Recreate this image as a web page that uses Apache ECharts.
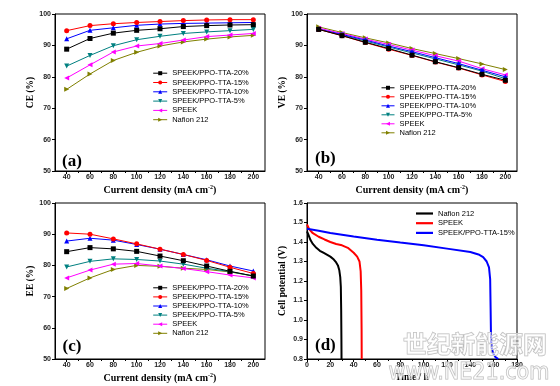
<!DOCTYPE html>
<html>
<head>
<meta charset="utf-8">
<script src="https://cdn.jsdelivr.net/npm/echarts@6/dist/echarts.min.js"></script>
<style>html,body{margin:0;padding:0;background:#fff}#c{width:560px;height:386px}</style>
</head>
<body>
<div id="c"></div>
<script>
// ---------- data ----------
const currents = [40, 60, 80, 100, 120, 140, 160, 180, 200];
const xTickLabels = [40, 60, 80, 100, 120, 140, 160, 180, 200];
const xMinorTicks = [50, 70, 90, 110, 130, 150, 170, 190];
const names = ['SPEEK/PPO-TTA-20%', 'SPEEK/PPO-TTA-15%', 'SPEEK/PPO-TTA-10%', 'SPEEK/PPO-TTA-5%', 'SPEEK', 'Nafion 212'];

const ce20 = [88.8, 92.2, 93.9, 94.8, 95.3, 96.0, 96.3, 96.5, 96.6];
const ce15 = [94.7, 96.3, 96.9, 97.3, 97.6, 97.9, 98.1, 98.2, 98.2];
const ce10 = [92.1, 94.8, 95.6, 96.4, 96.8, 97.0, 97.1, 97.2, 97.3];
const ce5 = [83.4, 86.8, 89.9, 91.8, 92.9, 93.8, 94.3, 94.7, 95.1];
const ceSpeek = [79.6, 83.8, 87.9, 89.8, 90.6, 91.7, 92.8, 93.3, 93.8];
const ceNafion = [76.0, 80.9, 85.2, 87.8, 89.8, 91.1, 92.0, 92.7, 93.2];

const ve20 = [95.1, 93.1, 91.0, 89.0, 86.9, 84.8, 82.9, 80.8, 78.9];
const ve15 = [95.1, 93.1, 90.9, 88.8, 86.8, 84.7, 82.8, 80.6, 78.5];
const ve10 = [95.2, 93.5, 91.7, 89.8, 88.0, 86.1, 84.2, 82.1, 80.0];
const ve5 = [95.1, 93.3, 91.4, 89.5, 87.6, 85.7, 83.8, 81.8, 79.4];
const veSpeek = [95.5, 93.8, 92.0, 90.3, 88.5, 86.7, 85.0, 82.6, 80.6];
const veNafion = [95.9, 94.1, 92.4, 90.8, 89.0, 87.4, 85.8, 84.1, 82.3];

const ee20 = [84.4, 85.7, 85.3, 84.5, 83.0, 81.5, 79.8, 78.1, 76.6];
const ee15 = [90.4, 90.0, 88.5, 86.9, 85.2, 83.5, 81.6, 79.4, 77.4];
const ee10 = [87.8, 88.7, 88.1, 86.7, 85.2, 83.5, 81.8, 79.8, 78.2];
const ee5 = [79.5, 81.3, 82.1, 81.9, 81.4, 80.4, 79.1, 78.0, 76.6];
const eeSpeek = [76.0, 78.5, 80.4, 80.6, 79.8, 79.0, 78.0, 76.9, 76.0];
const eeNafion = [72.6, 76.0, 78.7, 80.0, 79.7, 79.1, 78.7, 77.9, 76.6];

// discharge curves (panel d)
const nafionT = [0, 1, 3, 5, 8, 11, 14, 17, 20, 23, 25, 26.5, 27.7, 28.5, 29, 29.3, 29.5, 29.6];
const nafionV = [1.455, 1.44, 1.41, 1.39, 1.37, 1.355, 1.345, 1.335, 1.325, 1.31, 1.295, 1.28, 1.255, 1.22, 1.17, 1.05, 0.9, 0.8];
const speekT = [0, 2, 5, 10, 15, 20, 25, 30, 35, 40, 43, 45, 46, 46.5, 46.8, 46.9];
const speekV = [1.49, 1.465, 1.445, 1.427, 1.413, 1.40, 1.39, 1.383, 1.37, 1.345, 1.325, 1.30, 1.25, 1.15, 0.95, 0.8];
const ppoT = [0, 10, 20, 40, 60, 80, 100, 120, 140, 147, 151, 154, 156, 157, 157.4, 157.7, 158.2, 159.5, 161.5, 164];
const ppoV = [1.468, 1.458, 1.446, 1.428, 1.412, 1.397, 1.383, 1.366, 1.349, 1.336, 1.322, 1.30, 1.27, 1.21, 1.05, 0.92, 0.86, 0.83, 0.81, 0.80];
const dNames = ['Nafion 212 ', 'SPEEK ', 'SPEEK/PPO-TTA-15% '];

// ---------- styles ----------
const colors = ['#000000', '#ff0000', '#0000ff', '#008080', '#ff00ff', '#808000'];
const symbols = ['rect', 'circle', 'triangle', 'path://M0,0L10,0L5,10Z', 'path://M10,0L10,10L0,5Z', 'path://M0,0L10,5L0,10Z'];
const dColors = ['#000000', '#ff0000', '#0000ff'];
const SERIF = '"Liberation Serif","Times New Roman",serif';
const SANS = '"Liberation Sans",Arial,sans-serif';

const grids = [
  {left: 55, top: 14, width: 210, height: 157},
  {left: 307, top: 14, width: 210, height: 157},
  {left: 55, top: 203, width: 210, height: 156},
  {left: 307, top: 203, width: 210, height: 156}
].map(g => Object.assign({show: true, borderColor: '#000', borderWidth: 1, backgroundColor: 'transparent', containLabel: false, outerBoundsMode: 'none'}, g));

const labelStyle = {fontFamily: SANS, fontSize: 7, fontWeight: 'bold', color: '#222'};
const xName = '{n|Current density (mA cm}{s|-2}{n|)}';
const xNameStyle = {rich: {
  n: {fontFamily: SERIF, fontSize: 10, fontWeight: 'bold', color: '#000', lineHeight: 12},
  s: {fontFamily: SERIF, fontSize: 6, fontWeight: 'bold', color: '#000', lineHeight: 12, verticalAlign: 'top', padding: [0, 0, 5, 0]}
}};

const xAxes = [];
[0, 1, 2].forEach(g => {
  xAxes.push({
    type: 'value', gridIndex: g, position: 'bottom', min: 30, max: 210,
    name: xName, nameLocation: 'middle', nameGap: 13, nameTextStyle: xNameStyle,
    axisLine: {show: true, lineStyle: {color: '#000', width: 1}},
    axisTick: {show: true, inside: false, length: 3, customValues: xTickLabels, lineStyle: {color: '#000'}},
    axisLabel: Object.assign({margin: 3, customValues: xTickLabels}, labelStyle),
    splitLine: {show: false}
  });
  xAxes.push({
    type: 'value', gridIndex: g, position: 'bottom', min: 30, max: 210,
    axisLine: {show: false},
    axisTick: {show: true, inside: false, length: 2, customValues: xMinorTicks, lineStyle: {color: '#000'}},
    axisLabel: {show: false}, splitLine: {show: false}
  });
});
xAxes.push({
  type: 'value', gridIndex: 3, position: 'bottom', min: 0, max: 180, interval: 20,
  name: 'Time / h', nameLocation: 'middle', nameGap: 14,
  nameTextStyle: {fontFamily: SERIF, fontSize: 9.5, fontWeight: 'bold', color: '#000'},
  axisLine: {show: true, lineStyle: {color: '#000', width: 1}},
  axisTick: {show: true, inside: false, length: 3, lineStyle: {color: '#000'}},
  minorTick: {show: true, splitNumber: 2, length: 2, lineStyle: {color: '#000'}},
  axisLabel: Object.assign({margin: 3}, labelStyle),
  splitLine: {show: false}
});

const yNames = ['CE (%)', 'VE (%)', 'EE (%)'];
const yAxes = [0, 1, 2].map(g => ({
  type: 'value', gridIndex: g, min: 50, max: 100, interval: 10,
  name: yNames[g], nameLocation: 'middle', nameGap: 18,
  nameTextStyle: {fontFamily: SERIF, fontSize: 9.5, fontWeight: 'bold', color: '#000'},
  axisLine: {show: true, lineStyle: {color: '#000', width: 1}},
  axisTick: {show: true, inside: false, length: 3, lineStyle: {color: '#000'}},
  axisLabel: Object.assign({margin: 4}, labelStyle),
  splitLine: {show: false}
}));
yAxes.push({
  type: 'value', gridIndex: 3, min: 0.8, max: 1.6, interval: 0.1,
  name: 'Cell potential (V)', nameLocation: 'middle', nameGap: 19,
  nameTextStyle: {fontFamily: SERIF, fontSize: 9.5, fontWeight: 'bold', color: '#000'},
  axisLine: {show: true, lineStyle: {color: '#000', width: 1}},
  axisTick: {show: true, inside: false, length: 3, lineStyle: {color: '#000'}},
  axisLabel: Object.assign({margin: 4, formatter: v => v.toFixed(1)}, labelStyle),
  splitLine: {show: false}
});

const panelData = [
  [ce20, ce15, ce10, ce5, ceSpeek, ceNafion],
  [ve20, ve15, ve10, ve5, veSpeek, veNafion],
  [ee20, ee15, ee10, ee5, eeSpeek, eeNafion]
];
const series = [];
panelData.forEach((arrs, p) => {
  arrs.forEach((vals, i) => {
    series.push({
      type: 'line', name: names[i], xAxisIndex: p * 2, yAxisIndex: p,
      data: currents.map((c, k) => [c, vals[k]]),
      symbol: symbols[i], symbolSize: 5, showSymbol: true,
      lineStyle: {color: colors[i], width: 1},
      itemStyle: {color: colors[i]},
      z: 10 - i, animation: false
    });
  });
});
[[nafionT, nafionV], [speekT, speekV], [ppoT, ppoV]].forEach((tv, i) => {
  series.push({
    type: 'line', name: dNames[i], xAxisIndex: 6, yAxisIndex: 3,
    data: tv[0].map((t, k) => [t, tv[1][k]]),
    symbol: 'none', showSymbol: false,
    lineStyle: {color: dColors[i], width: 2},
    itemStyle: {color: dColors[i]},
    animation: false
  });
});

const legendText = {fontFamily: SANS, fontSize: 7.5, color: '#000', lineHeight: 8};
const mkLegend = (left, top, gap) => ({
  data: names, orient: 'vertical', left: left, top: top, padding: 0,
  itemWidth: 14, itemHeight: 5, itemGap: gap, textStyle: legendText, selectedMode: false,
  lineStyle: {width: 1}
});
const legends = [
  mkLegend(152.7, 69.2, 1.3),
  Object.assign(mkLegend(381, 83.8, 1.0), {itemWidth: 13}),
  mkLegend(152.7, 283.8, 1.1),
  {data: dNames.map(n => ({name: n, icon: 'rect'})), orient: 'vertical', left: 416, top: 209.5, padding: 0,
   itemWidth: 17, itemHeight: 2.2, itemGap: 1.7, textStyle: legendText, selectedMode: false}
];

const panelLabel = (txt, x, y) => ({
  type: 'text', x: x, y: y, z: 50,
  style: {text: txt, fontFamily: SERIF, fontSize: 17, fontWeight: 'bold', fill: '#000', textVerticalAlign: 'middle', textAlign: 'left'}
});

const chart = echarts.init(document.getElementById('c'), null, {renderer: 'canvas'});
chart.setOption({
  animation: false,
  backgroundColor: '#fff',
  grid: grids,
  xAxis: xAxes,
  yAxis: yAxes,
  legend: legends,
  series: series,
  graphic: [
    panelLabel('(a)', 62, 161.5),
    panelLabel('(b)', 315, 159),
    panelLabel('(c)', 62.5, 346.7),
    panelLabel('(d)', 315, 346),
    {type: 'text', x: 475, y: 343.5, z: 60, silent: true,
     style: {text: '世纪新能源网', fontFamily: '"Noto Sans CJK SC",sans-serif', fontSize: 24, fontWeight: 'bold',
       fill: 'rgba(255,255,255,0.55)', stroke: '#b8b8b8', lineWidth: 1, textAlign: 'center', textVerticalAlign: 'middle'}},
    {type: 'text', x: 469, y: 373, z: 60, silent: true,
     style: {text: 'www.NE21.com', fontFamily: '"Liberation Sans Narrow","DejaVu Sans Condensed",sans-serif', fontSize: 23,
       fill: 'rgba(255,255,255,0.55)', stroke: '#b8b8b8', lineWidth: 1, textAlign: 'center', textVerticalAlign: 'middle'}}
  ]
});
</script>
</body>
</html>
